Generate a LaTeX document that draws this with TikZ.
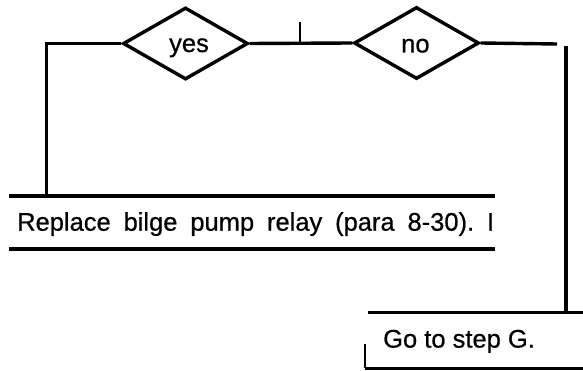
\documentclass[tikz,border=0pt]{standalone}
\usepackage{fontspec}
\setmainfont{Liberation Sans}[RawFeature={embolden=0.6}]
\usetikzlibrary{shapes.geometric}
\begin{document}
\frenchspacing
\begin{tikzpicture}[x=1pt,y=-1pt,
  wire/.style={line width=3.4pt},
  thinwire/.style={line width=2pt},
  decision/.style={diamond,draw,line width=3.4pt,inner sep=0pt,
     minimum width=125pt,minimum height=72pt},
  lbl/.style={inner sep=0pt,anchor=base,font=\fontsize{25.5}{30}\selectfont},
  lblw/.style={inner sep=0pt,anchor=base west,font=\fontsize{25.5}{30}\selectfont}]
\useasboundingbox (0,0) rectangle (583,371);
% decisions
\node[decision] (yes) at (185.5,43.5) {};
\node[lbl] (yestxt) at (189,52) {yes};
\node[decision] (no) at (416.5,43) {};
\node[lbl] (notxt) at (415.4,52.5) {no};
% box 1
\coordinate (b1tl) at (9,196);
\coordinate (b1tr) at (494.5,196);
\coordinate (b1bl) at (9,249);
\coordinate (b1br) at (494.5,249);
\draw[wire] (b1tl) -- (b1tr);
\draw[wire] (b1bl) -- (b1br);
\node[lblw] (box1) at (17,230.7) {\makebox[477pt][s]{Replace bilge pump relay (para 8-30). I}};
% box 2
\coordinate (b2tl) at (367.5,312.5);
\coordinate (b2tr) at (583,312.5);
\coordinate (b2bl) at (365,368.3);
\coordinate (b2br) at (583,368.3);
\coordinate (b2tick) at (365,344);
\draw[wire] (b2tl) -- (b2tr);
\draw[wire] (b2bl) -- (b2br);
\draw[thinwire] (b2tick) -- (b2bl);
\node[lblw] (box2) at (383,347.6) {Go to step G.};
% connectors
\coordinate (lc) at (46.7,196);
\draw[wire] (yes.west) -| (lc);
\draw[wire] (yes.east) -- (no.west);
\coordinate (tickt) at (300,21.7);
\coordinate (tickb) at (300,43);
\draw[thinwire] (tickt) -- (tickb);
\coordinate (rend) at (557,44);
\draw[wire] (no.east) -- (rend);
\coordinate (rvt) at (566,46);
\coordinate (rvb) at (566,312.5);
\draw[wire] (rvt) -- (rvb);
\end{tikzpicture}
\end{document}
